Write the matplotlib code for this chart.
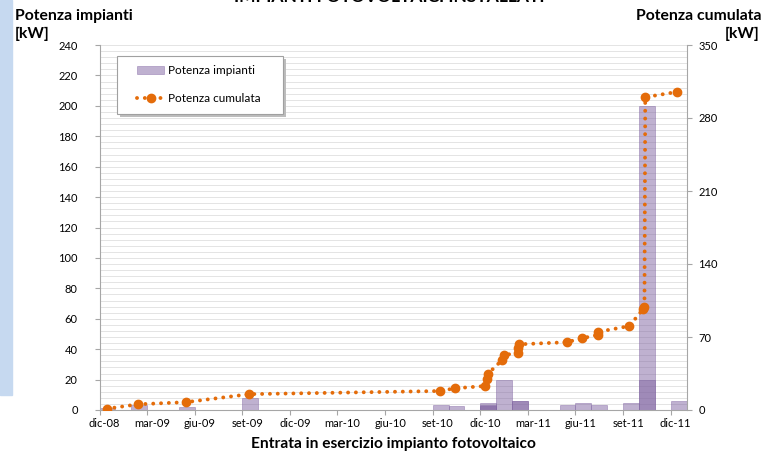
import matplotlib
matplotlib.use('Agg')
import numpy as np
import matplotlib.pyplot as plt
import matplotlib.transforms as mtransforms
from matplotlib.patches import Rectangle

plt.rcParams['font.family'] = ['Lato', 'DejaVu Sans']

# x axis: months counted from dic-08 (0) to dic-11 (36), labelled every 3 months
tick_pos = [0, 3, 6, 9, 12, 15, 18, 21, 24, 27, 30, 33, 36]
tick_labels = ['dic-08', 'mar-09', 'giu-09', 'set-09', 'dic-09', 'mar-10', 'giu-10',
               'set-10', 'dic-10', 'mar-11', 'giu-11', 'set-11', 'dic-11']

# one entry per plant: month of entry and power [kW]
plant_month = [0, 2, 5, 9, 21, 22, 24, 24, 24, 25, 26, 26, 29, 30, 31, 33, 34, 34, 36]
plant_kw = [1.6, 3.5, 1.8, 8.2, 3.3, 2.6, 4.5, 3.0, 2.8, 19.7, 6.0, 5.8,
            3.3, 4.6, 3.3, 4.5, 200, 20, 6.0]

# cumulative power [kW] at each entry date (months from dic-08)
cum_x = [0.45, 2.45, 5.45, 9.45, 21.45, 22.4, 24.3, 24.4, 24.5, 25.35, 25.5,
         26.35, 26.4, 26.45, 29.45, 30.4, 31.4, 31.45, 33.4, 34.25, 34.35, 34.4, 36.4]
cum_kw = [1.2, 5.5, 7.5, 15.2, 18.2, 20.8, 23, 29.5, 35, 47.5, 52.5,
          55, 59.5, 63, 65, 68.7, 72, 75, 80.5, 96.5, 99, 300, 305]

W, H = 762, 454
fig = plt.figure(figsize=(W / 100, H / 100), dpi=100)

# blue strip on the left edge
fig.patches.append(Rectangle((0, 1 - 395 / H), 12 / W, 395 / H, transform=fig.transFigure,
                             color='#C6D9F0', zorder=0))

ax = fig.add_axes([99.5 / W, 1 - 410 / H, 587 / W, 365 / H])
ax2 = ax.twinx()

axis_col = '#A6A6A6'
purple = '#8064A2'
orange = '#E46C0A'

ax.bar(plant_month, plant_kw, width=1, align='edge', color=purple, alpha=0.5,
       edgecolor=purple, linewidth=0.6, label='Potenza impianti', zorder=2)

ax2.plot(cum_x, cum_kw, color=orange, lw=2.8, ls=(0, (0.01, 2.0)), dash_capstyle='round',
         marker='o', ms=6, label='Potenza cumulata', zorder=3)

ax.set_xlim(0, 37)
ax.set_ylim(0, 240)
ax2.set_ylim(0, 350)

ax.set_yticks(np.arange(0, 241, 20))
ax.set_yticks(np.arange(0, 241, 4), minor=True)
ax2.set_yticks(np.arange(0, 351, 70))
ax.set_xticks(tick_pos)
ax.set_xticklabels(tick_labels)

ax.grid(which='both', axis='y', color='#E4E4E4', lw=0.7, zorder=0)
ax.set_axisbelow(True)

for s in ['top', 'right']:
    ax.spines[s].set_visible(False)
for s in ['top', 'left', 'bottom']:
    ax2.spines[s].set_visible(False)
for s in ['left', 'bottom']:
    ax.spines[s].set_color(axis_col)
ax2.spines['right'].set_color(axis_col)

ax.tick_params(axis='y', which='major', length=3.6, color=axis_col, pad=12, labelsize=8)
ax.tick_params(axis='y', which='minor', length=0)
ax.tick_params(axis='x', length=3.6, color=axis_col, pad=2, labelsize=8)
ax2.tick_params(axis='y', length=3.6, color=axis_col, pad=5, labelsize=8)

# labels sit a little to the right of their tick
off = mtransforms.ScaledTranslation(5 / 100, 0, fig.dpi_scale_trans)
for lab in ax.get_xticklabels():
    lab.set_transform(lab.get_transform() + off)

ax.set_xlabel('Entrata in esercizio impianto fotovoltaico', fontsize=11.2,
              fontweight='bold', labelpad=6)

fig.text(15 / W, 1 - 20 / H, 'Potenza impianti', fontsize=11.3, fontweight='bold',
         va='baseline', ha='left')
fig.text(15 / W, 1 - 38 / H, '[kW]', fontsize=11.3, fontweight='bold', va='baseline', ha='left')
fig.text(761 / W, 1 - 20 / H, 'Potenza cumulata', fontsize=11.3, fontweight='bold',
         va='baseline', ha='right')
fig.text(759 / W, 1 - 38 / H, '[kW]', fontsize=11.3, fontweight='bold', va='baseline', ha='right')
# title, cut off by the top edge
fig.text(389 / W, 1 - 2 / H, 'IMPIANTI FOTOVOLTAICI INSTALLATI', fontsize=12.5,
         fontweight='bold', va='baseline', ha='center')

# legend frame with a soft shadow, drawn in axes fraction
lx, ly, lw_, lh = 17.5 / 587, 296 / 365, 166 / 587, 58 / 365
sx, sy = 3 / 587, 3 / 365
ax2.add_patch(Rectangle((lx + sx, ly - sy), lw_, lh, transform=ax2.transAxes,
                        facecolor='#BDBDBD', edgecolor='none', zorder=4, clip_on=False))
ax2.add_patch(Rectangle((lx, ly), lw_, lh, transform=ax2.transAxes,
                        facecolor='white', edgecolor='#A0A0A0', lw=0.8, zorder=5, clip_on=False))

h1, l1 = ax.get_legend_handles_labels()
h2, l2 = ax2.get_legend_handles_labels()
leg = ax2.legend(h1 + h2, l1 + l2, loc='upper left',
                 bbox_to_anchor=(37.5 / 587, (410 - 65) / 365),
                 fontsize=8.5, frameon=False, borderpad=0, borderaxespad=0,
                 labelspacing=1.46, handlelength=2.3, handletextpad=0.3)
leg.set_zorder(6)

fig.savefig('out.png', dpi=100)
